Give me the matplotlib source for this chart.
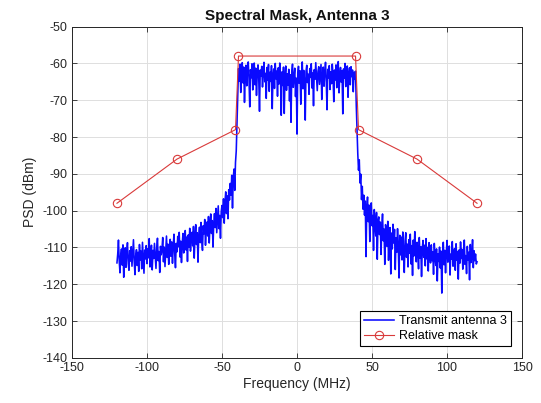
import numpy as np
import matplotlib
matplotlib.use("Agg")
import matplotlib.pyplot as plt

plt.rcParams['font.family'] = ['Liberation Sans', 'DejaVu Sans']
plt.rcParams['axes.unicode_minus'] = False

# PSD samples on a 0.5 MHz grid, -120 .. 120 MHz
freq_start, freq_stop, freq_step = -120.0, 120.0, 0.5

# lower skirt, -120 .. -39.5 MHz
psd_lower = [
    -114.2, -111.8, -108.0, -113.6, -116.9, -112.1, -110.4, -114.8, -109.3, -118.1,
    -112.6, -110.1, -115.4, -111.2, -108.7, -114.3, -116.2, -110.9, -113.7, -109.8,
    -115.1, -111.5, -107.9, -113.8, -117.4, -112.2, -110.6, -114.9, -111.3, -116.5,
    -109.2, -113.4, -111.0, -115.8, -108.6, -112.9, -117.0, -110.7, -113.1, -109.5,
    -114.4, -110.3, -112.8, -107.6, -115.3, -111.9, -109.4, -116.1, -110.8, -113.0,
    -108.9, -112.5, -115.7, -110.2, -107.5, -113.6, -111.1, -116.8, -109.7, -112.0,
    -110.5, -107.3, -113.9, -109.9, -115.2, -110.8, -106.9, -112.7, -109.1, -114.6,
    -110.0, -107.8, -112.4, -108.5, -114.3, -109.6, -106.4, -111.8, -115.5, -108.9,
    -111.2, -107.0, -109.8, -105.9, -112.6, -108.3, -114.1, -109.0, -106.2, -111.5,
    -108.1, -105.4, -110.7, -107.2, -113.8, -106.6, -109.9, -104.8, -111.0, -107.5,
    -105.9, -109.6, -104.3, -112.9, -107.1, -103.8, -109.2, -106.0, -114.0, -106.8,
    -104.5, -108.7, -103.2, -107.9, -110.8, -104.1, -106.3, -102.4, -109.4, -105.2,
    -103.1, -106.9, -101.6, -108.8, -104.0, -100.9, -106.2, -102.7, -109.9, -103.5,
    -100.8, -104.6, -99.4, -106.0, -102.1, -98.7, -104.9, -101.3, -107.5, -100.2,
    -98.6, -101.9, -96.8, -103.4, -97.5, -94.9, -100.8, -96.0, -102.2, -94.3,
    -97.1, -92.6, -95.8, -90.4, -99.3, -91.2, -88.7, -94.5, -86.9, -83.8,
    -76.5, -70.2,
]

# occupied band, -39 .. 39 MHz
psd_band = [
    -61.4, -64.8, -60.2, -67.9, -62.5, -59.8, -65.3, -61.0, -70.6, -63.2,
    -60.5, -66.1, -62.0, -59.6, -64.4, -71.8, -61.7, -63.9, -60.1, -67.2,
    -62.6, -59.9, -65.8, -61.3, -68.7, -62.9, -60.4, -64.1, -73.0, -61.8,
    -63.5, -60.8, -66.4, -62.2, -59.7, -65.0, -62.7, -69.5, -61.1, -64.6,
    -60.3, -67.6, -62.4, -64.9, -60.6, -72.3, -63.0, -61.5, -66.8, -60.0,
    -64.2, -62.1, -68.9, -61.2, -65.6, -59.9, -63.7, -74.1, -62.3, -66.0,
    -61.0, -73.6, -63.4, -60.7, -67.3, -62.8, -65.9, -61.6, -70.2, -63.1,
    -76.0, -62.4, -60.2, -66.5, -63.6, -61.3, -69.0, -64.0, -79.2, -62.5,
    -60.8, -65.4, -62.0, -71.1, -63.3, -59.6, -66.9, -61.9, -64.7, -75.4,
    -62.2, -60.5, -65.2, -62.9, -68.4, -61.4, -63.8, -60.1, -66.7, -62.6,
    -71.5, -61.7, -64.3, -59.8, -63.5, -67.4, -62.1, -60.9, -65.7, -62.8,
    -60.3, -69.8, -63.2, -61.0, -66.2, -62.4, -59.7, -64.8, -72.6, -61.6,
    -63.9, -60.6, -67.1, -62.3, -65.5, -60.2, -63.0, -70.4, -61.8, -64.5,
    -60.4, -66.6, -62.7, -59.5, -68.0, -63.4, -61.1, -65.1, -62.0, -73.7,
    -61.5, -64.0, -60.0, -66.3, -62.6, -60.7, -69.2, -63.1, -61.2, -65.8,
    -60.9, -63.6, -61.8, -67.7, -62.4, -64.3, -62.1,
]

# upper skirt, 39.5 .. 120 MHz
psd_upper = [
    -71.5, -77.8, -84.5, -89.0, -86.2, -92.5, -90.1, -97.0, -93.4, -99.6,
    -95.8, -101.2, -97.4, -112.5, -99.1, -96.3, -103.0, -98.5, -108.4, -100.6,
    -97.9, -104.1, -101.3, -110.8, -99.7, -103.6, -106.9, -100.5, -113.2, -102.8,
    -101.7, -106.5, -103.1, -111.9, -104.4, -100.9, -108.2, -105.0, -114.6, -103.8,
    -105.3, -109.7, -102.9, -113.5, -107.0, -104.6, -117.2, -106.1, -110.4, -103.7,
    -108.8, -105.1, -116.0, -107.4, -111.3, -104.9, -109.6, -118.3, -106.7, -112.0,
    -107.2, -113.4, -105.8, -110.9, -116.8, -108.3, -106.0, -112.7, -109.1, -115.3,
    -107.9, -111.6, -106.4, -114.5, -109.5, -117.6, -108.0, -112.3, -105.7, -110.6,
    -113.9, -108.6, -111.0, -115.8, -107.3, -112.9, -109.8, -117.9, -110.2, -108.1,
    -112.7, -109.4, -115.0, -107.6, -113.1, -110.0, -116.4, -108.7, -111.9, -114.2,
    -109.3, -113.6, -111.2, -117.3, -108.9, -112.5, -114.9, -110.4, -119.1, -111.7,
    -113.8, -109.9, -115.6, -111.0, -122.4, -112.3, -108.6, -114.7, -110.8, -116.9,
    -111.4, -108.1, -114.0, -112.9, -109.6, -117.5, -111.8, -113.2, -108.4, -115.1,
    -112.1, -110.3, -116.2, -109.0, -113.5, -111.1, -118.6, -110.7, -114.3, -108.5,
    -113.0, -110.5, -115.9, -111.6, -108.0, -114.6, -112.2, -117.1, -109.7, -113.4,
    -111.3, -118.8, -109.2, -114.1, -112.0, -107.9, -115.5, -110.9, -113.6, -111.8,
    -114.5, -113.9,
]

# relative spectral mask corners
mask_freq = [-120, -80, -41, -39, 39, 41, 80, 120]
mask_psd = [-98, -86, -78, -58, -58, -78, -86, -98]

xticks = [-150, -100, -50, 0, 50, 100, 150]
yticks = list(range(-140, -49, 10))

psd = np.array(psd_lower + psd_band + psd_upper)
freq = np.arange(freq_start, freq_stop + freq_step / 2, freq_step)

dark = (0.15, 0.15, 0.15)

fig = plt.figure(figsize=(5.41, 4.03), dpi=100)
ax = fig.add_axes([0.133, 0.112, 0.832, 0.822])

ax.plot(freq, psd, color='#0a0aff', lw=1.15, label='Transmit antenna 3')
ax.plot(mask_freq, mask_psd, color='#d93a3a', lw=0.8, marker='o',
        markersize=6, markerfacecolor='none', markeredgewidth=0.8,
        label='Relative mask')

ax.set_xlim(-150, 150)
ax.set_ylim(-140, -50)
ax.set_xticks(xticks)
ax.set_yticks(yticks)
ax.grid(True, color=(0.87, 0.87, 0.87), lw=0.7)
ax.set_axisbelow(True)

ax.tick_params(direction='in', top=True, right=True, length=3.5, width=0.6,
               colors=dark, labelsize=9, pad=3)
for sp in ax.spines.values():
    sp.set_color(dark)
    sp.set_linewidth(0.7)

ax.set_title('Spectral Mask, Antenna 3', fontsize=11, fontweight='bold',
             color='#111111', pad=5)
ax.set_xlabel('Frequency (MHz)', fontsize=10, color=dark, labelpad=2)
ax.set_ylabel('PSD (dBm)', fontsize=10, color=dark, labelpad=4)

leg = ax.legend(loc='lower right', bbox_to_anchor=(0.976, 0.035),
                borderaxespad=0, fontsize=9, fancybox=False, framealpha=1,
                edgecolor='black', handlelength=2.4, borderpad=0.35,
                labelspacing=0.2, handletextpad=0.4)
leg.get_frame().set_linewidth(0.8)

fig.savefig('out.png', dpi=100)
